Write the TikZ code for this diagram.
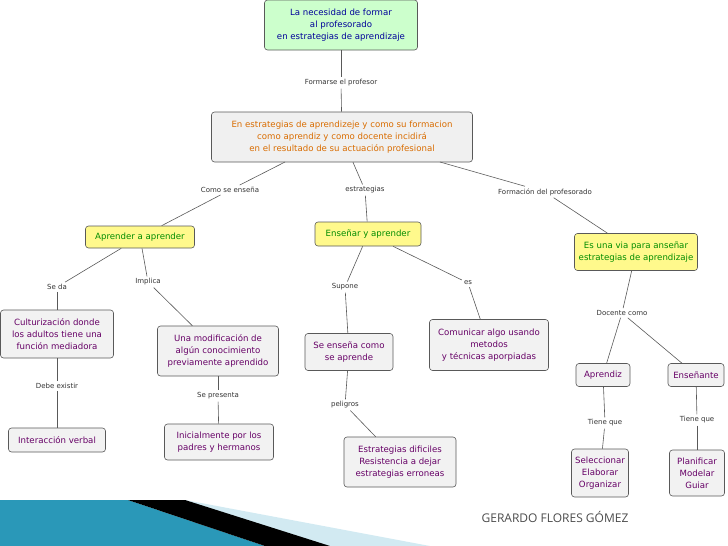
\documentclass[tikz,border=0pt]{standalone}
\usepackage{fontspec}
\setmainfont{DejaVu Sans}
\newfontfamily\gfont{Open Sans}
\definecolor{teal1}{HTML}{2A98B8}
\definecolor{lb}{HTML}{D2EAF2}
\begin{document}
\begin{tikzpicture}[x=1pt,y=-1pt,
  box/.style={draw=black!65,rounded corners=3pt,line width=0.6pt,align=center,font=\fontsize{8.6}{12}\selectfont,inner sep=2pt},
  gbox/.style={box,fill=green!20,text=blue!60!black},
  obox/.style={box,fill=gray!12,text=orange!85!black},
  ybox/.style={box,fill=yellow!45,text=green!55!black},
  pbox/.style={box,fill=gray!10,text=violet!80!black},
  lab/.style={font=\fontsize{7}{8}\selectfont,text=black!80,inner sep=2pt},
  ln/.style={draw=black!65,line width=0.6pt}]
\useasboundingbox (0,0) rectangle (728,546);
% decoration
\fill[lb] (185,500) -- (430,546) -- (300,546) -- cycle;
\fill[teal1] (0,500) -- (128,500) -- (265,546) -- (0,546) -- cycle;
\fill[black] (128,500) -- (185,500) -- (330,546) -- (265,546) -- cycle;
% nodes
\node[gbox,minimum width=153,minimum height=50] (top) at (341,25) {La necesidad de formar\\al profesorado\\en estrategias de aprendizaje};
\node[obox,minimum width=261,minimum height=50] (mid) at (342,137) {En estrategias de aprendizeje y como su formacion\\como aprendiz y como docente incidirá\\en el resultado de su actuación profesional};
\node[ybox,minimum width=109,minimum height=22] (aa) at (140,237) {Aprender a aprender};
\node[ybox,minimum width=106,minimum height=24] (ea) at (368,234) {Enseñar y aprender};
\node[ybox,minimum width=123,minimum height=37] (ev) at (636,252) {Es una via para anseñar\\estrategias de aprendizaje};
\node[pbox,minimum width=113,minimum height=48] (cu) at (57,334) {Culturización donde\\los adultos tiene una\\función mediadora};
\node[pbox,minimum width=121,minimum height=50] (um) at (218,351) {Una modificación de\\algún conocimiento\\previamente aprendido};
\node[pbox,minimum width=88,minimum height=37] (se) at (349,352) {Se enseña como\\se aprende};
\node[pbox,minimum width=119,minimum height=51] (co) at (489,345) {Comunicar algo usando\\metodos\\y técnicas aporpiadas};
\node[pbox,minimum width=54,minimum height=23] (ap) at (603,375) {Aprendiz};
\node[pbox,minimum width=56,minimum height=23] (en) at (696,375) {Enseñante};
\node[pbox,minimum width=97,minimum height=24] (iv) at (57,440) {Interacción verbal};
\node[pbox,minimum width=109,minimum height=36] (in) at (219,442) {Inicialmente por los\\padres y hermanos};
\node[pbox,minimum width=112,minimum height=50] (es) at (400,462) {Estrategias dificiles\\Resistencia a dejar\\estrategias erroneas};
\node[pbox,minimum width=57,minimum height=48] (sel) at (600,473) {Seleccionar\\Elaborar\\Organizar};
\node[pbox,minimum width=55,minimum height=46] (pl) at (697,473) {Planificar\\Modelar\\Guiar};
% labels
\node[lab] (l1) at (341,83) {Formarse el profesor};
\node[lab] (l2) at (230,190) {Como se enseña};
\node[lab] (l3) at (365,190) {estrategias};
\node[lab] (l4) at (545,192) {Formación del profesorado};
\node[lab] (l5) at (57,287) {Se da};
\node[lab] (l6) at (148,282) {Implica};
\node[lab] (l7) at (345,287) {Supone};
\node[lab] (l8) at (468,283) {es};
\node[lab] (l9) at (622,313) {Docente como};
\node[lab] (l10) at (57,386) {Debe existir};
\node[lab] (l11) at (218,396) {Se presenta};
\node[lab] (l12) at (345,405) {peligros};
\node[lab] (l13) at (605,423) {Tiene que};
\node[lab] (l14) at (697,420) {Tiene que};
% connectors
\draw[ln] (top) -- (l1); \draw[ln] (l1) -- (mid);
\coordinate (m1) at (285,162); \draw[ln] (m1) -- (l2); \draw[ln] (l2) -- (aa);
\draw[ln] (mid) -- (l3); \draw[ln] (l3) -- (ea);
\coordinate (m3) at (440,162); \draw[ln] (m3) -- (l4); \draw[ln] (l4) -- (ev);
\draw[ln] (aa) -- (l5); \draw[ln] (l5) -- (cu);
\draw[ln] (aa) -- (l6); \draw[ln] (l6) -- (um);
\draw[ln] (ea) -- (l7); \draw[ln] (l7) -- (se);
\draw[ln] (ea) -- (l8); \draw[ln] (l8) -- (co);
\draw[ln] (ev) -- (l9); \draw[ln] (l9) -- (ap); \draw[ln] (l9) -- (en);
\draw[ln] (cu) -- (l10); \draw[ln] (l10) -- (iv);
\draw[ln] (um) -- (l11); \draw[ln] (l11) -- (in);
\draw[ln] (se) -- (l12); \draw[ln] (l12) -- (es);
\draw[ln] (ap) -- (l13); \draw[ln] (l13) -- (sel);
\draw[ln] (en) -- (l14); \draw[ln] (l14) -- (pl);
\node[font=\gfont\fontsize{12}{14}\selectfont,text=black!70] (name) at (555,517) {GERARDO FLORES GÓMEZ};
\end{tikzpicture}
\end{document}
